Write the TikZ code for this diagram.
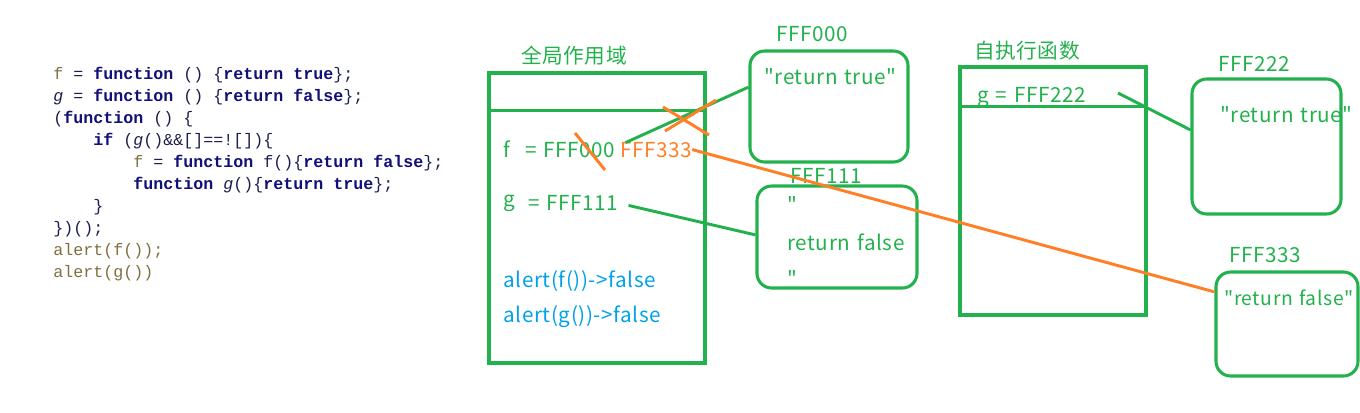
\documentclass[tikz,border=0pt]{standalone}
\usepackage{fontspec}
\newfontfamily\cjk[LetterSpace=3,WordSpace=1.3]{Noto Sans CJK SC}
\newfontfamily\codefont{Liberation Mono}
\usetikzlibrary{positioning,calc}
\definecolor{pgreen}{RGB}{34,177,76}
\definecolor{porange}{RGB}{255,127,39}
\definecolor{pblue}{RGB}{0,162,232}
\definecolor{kwblue}{RGB}{16,16,120}
\definecolor{codeplain}{RGB}{30,30,80}
\definecolor{codeolive}{RGB}{128,112,64}
\newcommand\kw[1]{\textbf{\color{kwblue}#1}}
\newcommand\ov[1]{{\color{codeolive}#1}}

\begin{document}
\begin{tikzpicture}[x=0.75pt, y=-0.75pt,
  scopebox/.style={draw=pgreen, line width=2.3pt, inner sep=0pt},
  heap/.style={draw=pgreen, line width=2.3pt, rounded corners=11pt, inner sep=0pt},
  lab/.style={font=\cjk\fontsize{15.5}{18}\selectfont, text=pgreen, inner sep=0pt},
  hot/.style={lab, text=porange},
  result/.style={lab, text=pblue},
  link/.style={pgreen, line width=2.2pt},
  cut/.style={porange, line width=2.2pt}]
\useasboundingbox (0,0) rectangle (1360,412);
\node[anchor=north west, align=left, inner sep=0pt, text=codeplain,
  font=\codefont\fontsize{12.5}{16.5}\selectfont] (code) at (53,67)
  {\ov{f} = \kw{function} () \{\kw{return} \kw{true}\};\\
   \textit{g} = \kw{function} () \{\kw{return} \kw{false}\};\\
   (\kw{function} () \{\\
   \phantom{0000}\kw{if} (\textit{g}()\&\&[]==![])\{\\
   \phantom{00000000}\ov{f} = \kw{function} f()\{\kw{return} \kw{false}\};\\
   \phantom{00000000}\kw{function} \textit{g}()\{\kw{return} \kw{true}\};\\
   \phantom{0000}\}\\
   \})();\\
   \ov{alert(f());}\\
   \ov{alert(g())}};
% global scope
\node[scopebox, minimum width=162pt, minimum height=217.5pt] (glob) at (597,218) {};
\draw[scopebox] ($(glob.north west)+(0,39)$) -- ($(glob.north east)+(0,39)$);
\node[lab] (globt) at (574,56) {全局作用域};
\node[lab, anchor=base west] (fname) at (503,157) {f};
\node[lab, anchor=base west] (fval) at (525,157) {= FFF000};
\node[hot, anchor=base west] (fnew) at (620,157) {FFF333};
\node[lab, anchor=base west] (gname) at (503,206) {g};
\node[lab, anchor=base west] (gval) at (528,210) {= FFF111};
\node[result, anchor=base west] (outf) at (503,287) {alert(f())->false};
\node[result, anchor=base west] (outg) at (503,322) {alert(g())->false};
% self-executing function
\node[scopebox, minimum width=139.5pt, minimum height=186pt] (self) at (1053,191) {};
\draw[scopebox] ($(self.north west)+(0,41)$) -- ($(self.north east)+(0,41)$);
\node[lab] (selft) at (1027,51) {自执行函数};
\node[lab, anchor=base west] (g222) at (977,102) {g = FFF222};
% heap
\node[heap, minimum width=118.5pt, minimum height=83.25pt] (b000) at (829,106.5) {};
\node[lab, anchor=base west] (l000) at (776,41) {FFF000};
\node[lab, anchor=base west] (t000) at (764,84) {"return true"};
\node[heap, minimum width=120pt, minimum height=76.5pt] (b111) at (837,237) {};
\node[lab, anchor=base west] (l111) at (790,183) {FFF111};
\node[lab, anchor=base west] (q111a) at (787,212) {"};
\node[lab, anchor=base west] (t111) at (787,250) {return false};
\node[lab, anchor=base west] (q111b) at (787,286) {"};
\node[heap, minimum width=111.75pt, minimum height=101.25pt] (b222) at (1266.5,146.5) {};
\node[lab, anchor=base west] (l222) at (1218,71) {FFF222};
\node[lab, anchor=base west] (t222) at (1220,122) {"return true"};
\node[heap, minimum width=106.5pt, minimum height=78pt] (b333) at (1287,324) {};
\node[lab, anchor=base west] (l333) at (1229,262) {FFF333};
\node[lab, anchor=base west, font=\cjk\fontsize{14.5}{18}\selectfont] (t333) at (1224,305) {"return false"};
\draw[link] ($(fval.north east)+(10,1)$) -- ($(b000.north west)!.33!(b000.south west)$);
\draw[link] ($(gval.east)+(10,3)$) -- ($(b111.north west)!.48!(b111.south west)$);
\draw[link] ($(g222.east)+(32,-4)$) -- ($(b222.north west)!.38!(b222.south west)$);
\draw[cut] (fnew.east) -- ($(b333.north west)!.2!(b333.south west)$);
\draw[cut] (663,107) -- (709,135);
\draw[cut] (665,131) -- (716,100);
\draw[cut] (575,133) -- (605,170);
\end{tikzpicture}
\end{document}
